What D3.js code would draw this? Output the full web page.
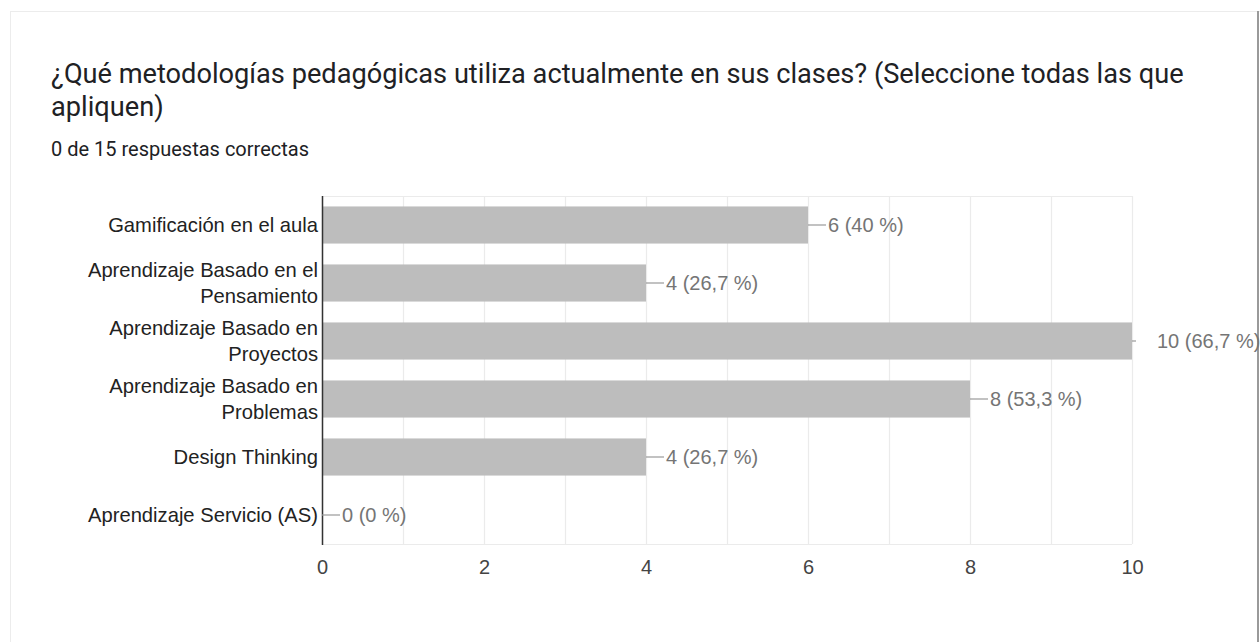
<!DOCTYPE html>
<html><head><meta charset="utf-8">
<script src="https://cdn.jsdelivr.net/npm/d3@7"></script>
<style>
html,body{margin:0;padding:0;background:#fff;}
svg{display:block;}
</style></head>
<body>
<svg id="chart" width="1260" height="642"></svg>
<script>
const titleLines = ["¿Qué metodologías pedagógicas utiliza actualmente en sus clases? (Seleccione todas las que", "apliquen)"];
const subtitle = "0 de 15 respuestas correctas";
const categories = [
  ["Gamificación en el aula"],
  ["Aprendizaje Basado en el", "Pensamiento"],
  ["Aprendizaje Basado en", "Proyectos"],
  ["Aprendizaje Basado en", "Problemas"],
  ["Design Thinking"],
  ["Aprendizaje Servicio (AS)"]
];
const values = [6, 4, 10, 8, 4, 0];
const percentLabels = ["40 %", "26,7 %", "66,7 %", "53,3 %", "26,7 %", "0 %"];
const xTicks = [0, 2, 4, 6, 8, 10];
const xMax = 10;

(function(){
const svg = d3.select("#chart");
svg.append("rect").attr("x",10.5).attr("y",11.5).attr("width",1250).attr("height",640)
  .attr("fill","#fff").attr("stroke","#ececec");
svg.append("line").attr("x1",1258).attr("x2",1258).attr("y1",11).attr("y2",642)
  .attr("stroke","#9a9a9a").attr("stroke-width",2);

const tt = svg.append("text").attr("font-family","Roboto, 'Noto Sans', sans-serif")
  .attr("font-size",27.2).attr("fill","#202124");
titleLines.forEach((t,i)=>tt.append("tspan").attr("x",51).attr("y",83+i*33).text(t));
svg.append("text").attr("x",51).attr("y",156).attr("font-family","Roboto, sans-serif")
  .attr("font-size",20).attr("fill","#202124").text(subtitle);

const pLeft = 322, pRight = 1132, pTop = 196, pBottom = 544;
const x = d3.scaleLinear().domain([0, xMax]).range([pLeft, pRight]);
const y = d3.scaleBand().domain(d3.range(categories.length)).range([pTop, pBottom]).paddingInner(0.36).paddingOuter(0.18);

const g = svg.append("g");
const grid = d3.range(0, xMax + 1);
g.selectAll("line.grid").data(grid).join("line")
  .attr("x1", d=>x(d)+0.5).attr("x2", d=>x(d)+0.5).attr("y1", pTop).attr("y2", pBottom)
  .attr("stroke", "#ebebeb").attr("stroke-width",1.2);
g.append("line").attr("x1",pLeft).attr("x2",pRight).attr("y1",pTop+0.5).attr("y2",pTop+0.5).attr("stroke","#ebebeb").attr("stroke-width",1.2);
g.append("line").attr("x1",pLeft).attr("x2",pRight).attr("y1",pBottom+0.5).attr("y2",pBottom+0.5).attr("stroke","#ebebeb").attr("stroke-width",1.2);

g.selectAll("rect.bar").data(values).join("rect")
  .attr("x", pLeft).attr("y", (d,i)=>y(i)).attr("width", d=>x(d)-pLeft).attr("height", y.bandwidth())
  .attr("fill", "#bdbdbd");

g.append("line").attr("x1",pLeft+0.5).attr("x2",pLeft+0.5).attr("y1",pTop).attr("y2",pBottom+1)
  .attr("stroke","#333").attr("stroke-width",1.5);

const xAxis = d3.axisBottom(x).tickValues(xTicks).tickSize(0).tickPadding(0).tickFormat(d3.format("d"));
const ax = svg.append("g").attr("transform",`translate(0,${pBottom})`).call(xAxis);
ax.select(".domain").remove();
ax.selectAll("text").attr("dy",null).attr("y",30).attr("font-family","Arial, 'Liberation Sans', sans-serif")
  .attr("font-size",20).attr("fill","#444");

categories.forEach((lines,i)=>{
  const cy = y(i) + y.bandwidth()/2;
  const t = svg.append("text").attr("text-anchor","end").attr("font-family","Arial, 'Liberation Sans', sans-serif")
    .attr("font-size",20.2).attr("fill","#222");
  const n = lines.length;
  lines.forEach((l,j)=>t.append("tspan").attr("x",318).attr("y", cy + 7 + (j-(n-1)/2)*25.5).text(l));
});

values.forEach((v,i)=>{
  const cy = y(i) + y.bandwidth()/2;
  const isMax = v === xMax;
  const stem = isMax ? 4 : 18;
  const off = isMax ? 25 : 20;
  svg.append("line").attr("x1",x(v)).attr("x2",x(v)+stem).attr("y1",cy).attr("y2",cy)
    .attr("stroke","#999").attr("stroke-width",1.2);
  svg.append("text").attr("x",x(v)+off).attr("y",cy+7).attr("font-family","Arial, 'Liberation Sans', sans-serif")
    .attr("font-size",20).attr("fill","#757575").text(`${v} (${percentLabels[i]})`);
});
})();
</script>
</body></html>
